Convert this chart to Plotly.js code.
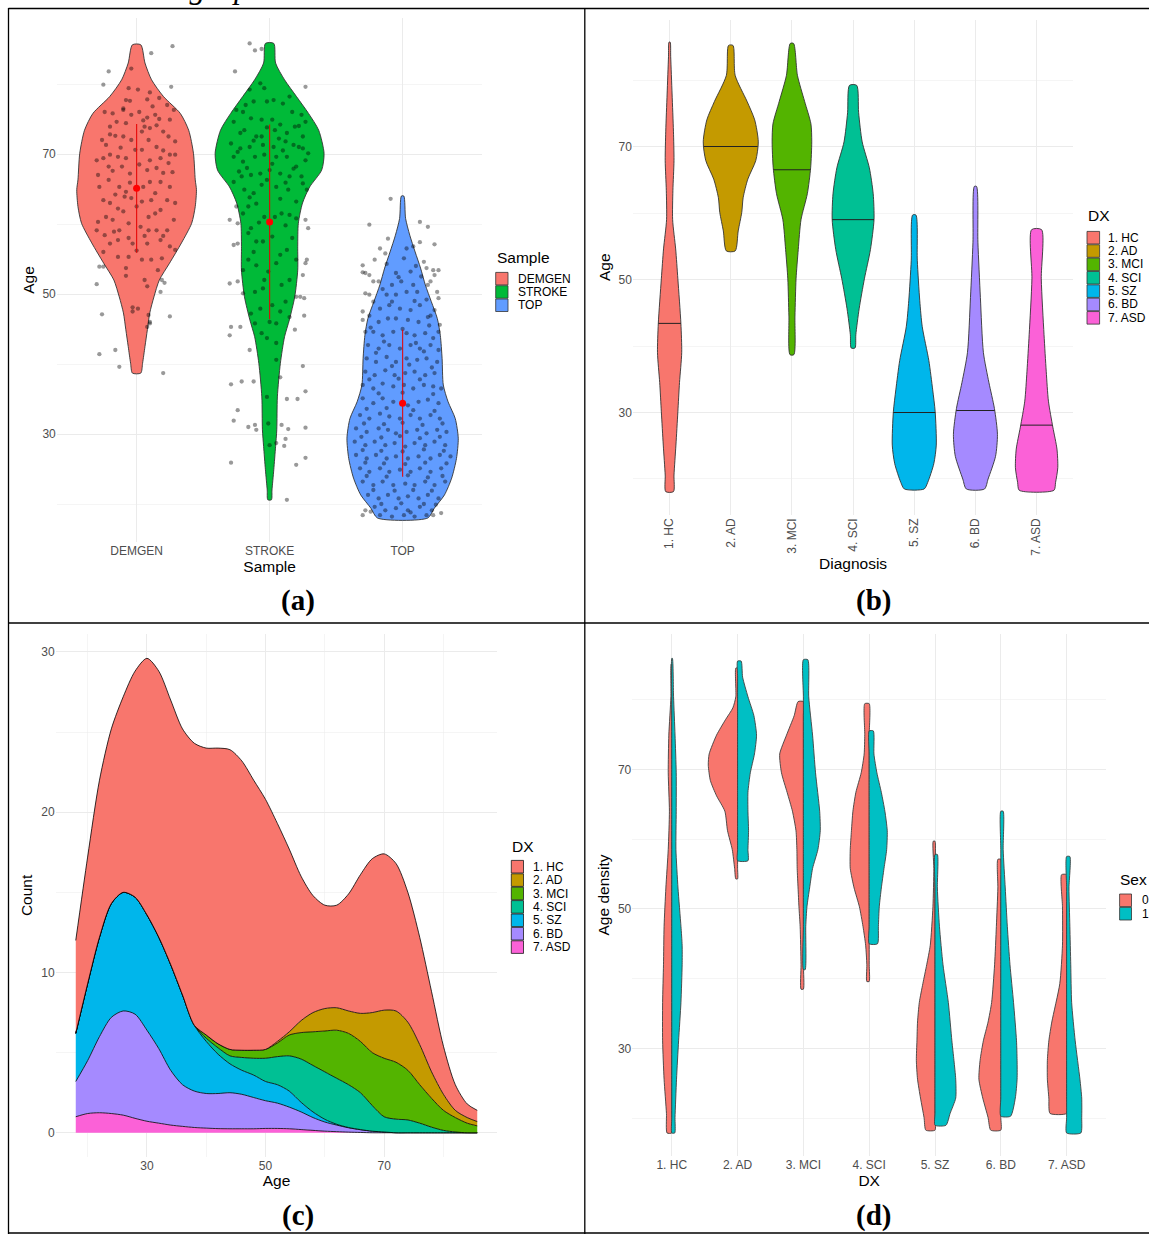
<!DOCTYPE html>
<html><head><meta charset="utf-8">
<script src="https://cdn.plot.ly/plotly-3.0.1.min.js"></script>
<style>html,body{margin:0;padding:0;background:#fff}#chart{width:1149px;height:1234px}</style>
</head><body><div id="chart"></div>
<script>
// ---------------- DATA ----------------
// Panel (a): violin density profiles (age, relative half-width) per sample
const sampleNames = ['DEMGEN', 'STROKE', 'TOP'];
const sampleColors = ['#F8766D', '#00BA38', '#619CFF'];
const demgenProfileAge = [85.6, 83.0, 80.6, 78.2, 75.8, 73.4, 70.1, 66.3, 64.9, 62.5, 60.1, 57.3, 54.4, 52.0, 49.6, 47.3, 44.9, 42.5, 40.1, 38.7];
const demgenProfileWidth = [0.07, 0.14, 0.25, 0.45, 0.73, 0.87, 0.95, 0.98, 1.0, 0.98, 0.92, 0.75, 0.55, 0.38, 0.29, 0.22, 0.18, 0.14, 0.1, 0.07];
const strokeProfileAge = [85.8, 83.0, 80.6, 78.2, 75.8, 73.4, 70.1, 67.7, 65.3, 63.0, 60.1, 56.8, 53.4, 49.6, 46.3, 43.9, 40.1, 35.3, 30.6, 28.2, 24.9, 22.0, 20.6];
const strokeProfileWidth = [0.07, 0.1, 0.25, 0.45, 0.65, 0.82, 0.91, 0.87, 0.67, 0.55, 0.48, 0.47, 0.47, 0.42, 0.33, 0.25, 0.18, 0.13, 0.12, 0.1, 0.07, 0.04, 0.03];
const topProfileAge = [64.0, 60.8, 58.4, 56.0, 53.7, 51.3, 48.9, 46.5, 44.1, 40.8, 37.0, 34.6, 32.2, 29.4, 26.5, 23.7, 21.3, 19.4, 18.0];
const topProfileWidth = [0.02, 0.05, 0.12, 0.21, 0.3, 0.38, 0.48, 0.58, 0.63, 0.66, 0.68, 0.76, 0.88, 0.93, 0.9, 0.82, 0.7, 0.53, 0.42];
const sampleMean = [65.1, 60.3, 34.4];
const sampleSd = [9.2, 13.9, 10.5];
// jittered subjects: [horizontal jitter (category units), age]
const demgenPoints = [[0.27,85.4],[0.11,84.4],[-0.21,81.8],[-0.25,79.9],[0.26,79.6],[-0.04,82.2],[-0.06,79.4],[0.01,79.2],[0.10,78.8],[0.17,78.0],[-0.08,77.7],[-0.05,77.6],[0.08,77.8],[0.23,77.0],[-0.10,76.5],[0.02,76.0],[-0.24,76.0],[-0.18,75.8],[-0.04,75.6],[0.08,75.2],[0.14,75.6],[0.17,75.0],[0.25,74.9],[0.28,76.3],[-0.20,73.9],[-0.15,74.6],[-0.08,74.4],[0.06,73.9],[0.10,73.7],[0.15,74.1],[0.24,72.5],[0.29,71.8],[-0.26,72.0],[-0.23,71.3],[-0.16,72.6],[-0.10,72.5],[-0.04,72.0],[0.04,73.2],[0.09,72.0],[0.15,71.0],[0.20,73.2],[-0.30,69.1],[-0.25,69.4],[-0.20,69.9],[-0.14,69.6],[-0.08,69.4],[-0.01,70.6],[0.04,70.6],[0.10,69.1],[0.18,69.4],[0.25,69.9],[0.29,69.9],[-0.29,67.0],[-0.21,68.2],[-0.11,68.2],[-0.05,67.2],[0.08,67.7],[0.15,68.0],[0.24,68.7],[-0.28,65.3],[-0.21,66.3],[-0.13,65.3],[-0.08,64.6],[0.05,65.3],[0.10,66.0],[0.18,66.0],[0.25,65.3],[-0.25,63.4],[-0.20,63.0],[-0.09,63.9],[-0.04,63.7],[0.04,63.2],[0.11,63.4],[0.23,63.4],[0.29,63.0],[-0.29,60.3],[-0.23,61.0],[-0.18,60.6],[-0.10,61.8],[0.00,62.5],[0.09,61.0],[0.18,62.0],[0.28,60.6],[-0.30,59.1],[-0.24,58.4],[-0.13,59.1],[-0.06,58.0],[0.03,59.6],[0.09,59.1],[0.15,59.1],[0.23,59.1],[-0.20,57.2],[-0.14,57.7],[-0.03,57.2],[0.08,57.2],[0.18,57.7],[0.25,56.8],[-0.25,56.0],[-0.14,55.3],[-0.06,55.3],[0.04,54.9],[0.11,54.9],[0.19,55.1],[0.29,56.3],[-0.28,53.9],[-0.25,53.9],[-0.08,53.7],[0.16,53.4],[0.19,52.0],[-0.30,51.4],[-0.08,52.6],[0.08,51.1],[0.06,52.0],[0.18,50.3],[0.21,51.6],[-0.03,48.1],[0.01,47.9],[-0.26,47.1],[0.09,47.0],[0.25,46.8],[0.10,46.0],[0.08,45.3],[0.10,45.8],[-0.28,41.4],[-0.16,42.0],[-0.13,39.6],[0.20,38.7],[-0.03,47.5],[-0.12,70.9],[0.20,70.5],[-0.18,67.6],[0.02,68.5],[0.20,67.3],[-0.05,65.9],[-0.16,64.2],[0.14,64.4],[0.27,67.4],[-0.14,62.2],[0.14,61.5],[-0.06,60.1],[0.06,58.3],[-0.17,58.9],[0.20,58.3],[0.00,56.2],[-0.10,76.3],[0.12,76.8],[-0.20,72.8],[0.05,74.8]];
const strokePoints = [[-0.15,85.8],[-0.11,84.8],[-0.06,85.0],[-0.26,81.8],[0.27,79.6],[-0.15,79.2],[-0.07,80.1],[-0.04,79.4],[0.15,78.2],[0.03,77.7],[-0.02,77.5],[-0.12,77.5],[-0.20,76.0],[-0.25,76.3],[-0.14,75.1],[-0.06,74.9],[0.02,74.9],[0.17,76.0],[0.24,75.6],[0.27,74.6],[-0.27,74.6],[-0.19,73.4],[-0.10,72.5],[-0.06,72.5],[0.04,73.4],[0.13,73.0],[0.19,73.9],[0.25,72.5],[-0.29,71.5],[-0.22,70.8],[-0.15,71.0],[-0.05,71.3],[0.03,71.0],[0.12,71.8],[0.18,71.3],[0.22,71.0],[0.29,70.1],[-0.27,69.6],[-0.20,68.9],[-0.11,69.6],[-0.04,69.9],[0.05,69.6],[0.13,69.6],[0.20,68.2],[0.27,69.1],[-0.27,66.0],[-0.21,66.8],[-0.14,67.0],[-0.07,67.2],[0.00,67.7],[0.08,67.2],[0.15,66.8],[0.24,66.8],[-0.19,64.9],[-0.12,64.4],[-0.06,65.6],[0.05,65.3],[0.14,64.9],[0.25,65.8],[0.28,64.9],[-0.25,62.5],[-0.16,62.5],[-0.10,62.9],[0.09,61.5],[0.15,61.3],[0.20,60.8],[-0.30,60.6],[-0.24,60.1],[-0.14,59.4],[-0.04,61.0],[0.04,61.0],[0.27,60.6],[0.29,59.4],[-0.27,57.0],[-0.24,57.2],[-0.16,58.7],[-0.10,57.5],[-0.05,57.5],[0.13,56.3],[0.17,58.0],[0.28,54.9],[0.27,54.4],[-0.20,53.4],[-0.16,54.9],[-0.10,54.1],[-0.01,53.2],[0.05,54.4],[0.20,54.9],[0.25,52.7],[-0.30,51.5],[-0.24,51.8],[-0.20,50.1],[-0.11,50.3],[-0.04,52.0],[0.09,51.3],[0.15,52.0],[0.20,49.6],[0.26,49.4],[0.23,49.6],[-0.07,47.9],[0.02,48.4],[0.08,47.5],[0.15,46.7],[0.26,46.9],[-0.29,45.3],[-0.22,45.3],[-0.30,44.1],[-0.11,45.8],[-0.06,44.4],[0.00,46.0],[0.05,45.8],[0.19,44.9],[-0.02,43.7],[-0.15,42.0],[0.05,40.6],[0.25,39.7],[-0.29,37.1],[-0.21,37.5],[-0.12,37.5],[0.08,38.1],[-0.02,35.3],[0.13,35.0],[0.21,35.0],[0.27,36.1],[-0.24,33.4],[-0.27,31.9],[-0.16,31.0],[-0.11,31.3],[-0.10,30.6],[-0.01,31.5],[0.09,31.3],[0.14,30.7],[0.27,30.9],[0.12,29.3],[0.11,28.3],[0.00,28.4],[0.05,28.7],[-0.29,25.9],[0.27,26.6],[0.20,25.6],[0.13,20.6],[-0.18,77.0],[0.10,77.2],[-0.22,73.0],[-0.02,73.8],[0.08,74.2],[0.22,74.0],[-0.12,71.9],[0.07,72.2],[-0.24,70.3],[0.10,70.5],[0.25,70.8],[-0.17,68.0],[0.02,68.6],[0.18,67.9],[-0.23,67.5],[-0.02,66.3],[0.12,65.9],[-0.15,63.8],[0.08,63.6],[0.20,63.2],[-0.20,61.5],[-0.08,60.2],[0.12,59.8],[0.02,58.2],[-0.12,56.0],[0.08,55.6],[-0.05,50.8],[0.12,48.9],[-0.14,47.2],[0.05,43.0]];
const topPoints = [[-0.09,63.6],[-0.25,59.9],[0.13,60.3],[0.19,59.6],[-0.11,57.9],[0.24,57.1],[-0.17,56.5],[-0.13,55.8],[0.13,57.4],[0.08,56.8],[-0.21,54.9],[-0.30,54.1],[-0.28,53.0],[-0.25,52.7],[-0.30,53.1],[0.16,54.6],[0.18,53.7],[0.23,53.4],[0.27,53.4],[0.24,52.7],[-0.22,51.8],[-0.18,51.8],[0.21,51.8],[0.19,51.3],[0.26,50.3],[-0.28,50.1],[-0.25,49.9],[0.27,49.4],[-0.22,48.9],[-0.30,47.5],[0.24,47.7],[-0.30,46.3],[0.28,45.6],[-0.28,44.6],[0.27,44.6],[0.03,56.5],[0.01,55.1],[-0.05,53.0],[0.06,53.2],[-0.08,51.3],[-0.01,51.8],[0.08,51.3],[-0.12,49.9],[-0.05,49.9],[0.03,50.3],[0.11,50.3],[-0.17,47.9],[-0.10,48.4],[-0.02,47.9],[0.06,47.7],[0.13,48.4],[-0.18,46.0],[-0.11,46.5],[-0.05,46.5],[0.04,46.3],[0.12,46.0],[0.19,46.7],[-0.22,44.6],[-0.15,44.1],[-0.07,44.6],[0.03,44.4],[0.09,44.1],[0.17,44.4],[0.23,43.7],[-0.26,42.7],[-0.18,42.2],[-0.10,42.7],[-0.02,42.2],[0.06,42.7],[0.13,42.2],[0.21,42.7],[0.27,42.0],[-0.27,40.8],[-0.20,40.3],[-0.12,41.0],[-0.05,40.3],[0.03,40.8],[0.11,40.6],[0.18,40.8],[0.26,40.3],[-0.28,38.9],[-0.21,38.4],[-0.13,39.1],[-0.06,38.4],[0.02,38.7],[0.09,38.9],[0.17,38.4],[0.24,38.7],[-0.30,37.0],[-0.22,36.5],[-0.15,37.2],[-0.07,36.8],[0.01,37.0],[0.08,36.5],[0.16,37.0],[0.23,36.8],[0.29,36.5],[-0.30,35.1],[-0.22,34.4],[-0.15,35.1],[-0.07,34.6],[0.04,34.1],[0.12,34.6],[0.19,34.9],[0.27,34.4],[-0.32,32.7],[-0.25,32.2],[-0.17,32.9],[-0.10,32.5],[-0.02,32.2],[0.06,32.7],[0.13,32.2],[0.21,32.7],[0.28,32.2],[-0.35,30.8],[-0.27,30.3],[-0.18,30.8],[-0.11,30.6],[-0.05,30.1],[0.03,30.3],[0.11,30.6],[0.18,30.1],[0.26,30.6],[0.33,30.3],[-0.36,28.9],[-0.28,28.4],[-0.21,28.9],[-0.13,28.4],[-0.06,28.7],[0.02,28.2],[0.09,28.7],[0.17,28.4],[0.24,28.9],[0.32,28.4],[-0.35,27.0],[-0.27,26.5],[-0.20,27.0],[-0.12,26.5],[-0.05,26.8],[0.04,26.5],[0.12,26.8],[0.21,26.5],[0.28,27.0],[0.36,26.8],[-0.32,25.1],[-0.25,24.6],[-0.17,25.1],[-0.10,24.6],[-0.02,24.9],[0.06,24.6],[0.13,25.1],[0.21,24.6],[0.29,25.1],[-0.30,23.2],[-0.22,22.7],[-0.15,23.2],[-0.07,22.7],[0.02,22.9],[0.09,22.7],[0.17,23.2],[0.24,22.7],[0.32,23.2],[-0.26,21.3],[-0.18,20.8],[-0.11,21.3],[-0.03,20.8],[0.04,21.1],[0.12,20.8],[0.19,21.3],[0.27,20.8],[-0.21,19.6],[-0.13,19.1],[-0.05,19.4],[0.04,19.1],[0.13,19.6],[0.22,19.1],[-0.17,18.4],[-0.08,18.2],[0.01,18.4],[0.09,18.2],[0.18,18.4],[-0.30,18.4],[-0.28,19.1],[0.29,18.7],[0.23,18.4],[-0.24,45.2],[0.00,45.0],[0.20,45.5],[-0.14,43.2],[0.10,43.0],[-0.20,41.6],[0.16,41.8],[-0.08,39.7],[0.05,39.9],[0.22,39.5],[-0.25,37.8],[-0.03,37.9],[0.13,37.8],[-0.18,35.8],[0.00,35.9],[0.23,35.7],[-0.27,33.6],[-0.12,33.7],[0.08,33.4],[0.24,33.3],[-0.29,31.5],[-0.14,31.4],[0.00,31.6],[0.15,31.3],[0.30,31.5],[-0.31,29.6],[-0.16,29.5],[-0.02,29.7],[0.13,29.4],[0.28,29.6],[-0.30,27.7],[-0.16,27.6],[0.00,27.5],[0.16,27.8],[0.31,27.6],[-0.28,25.9],[-0.14,25.8],[0.02,25.7],[0.17,25.9],[0.33,25.8],[-0.27,24.0],[-0.12,23.9],[0.04,24.1],[0.19,23.8],[0.30,24.0],[-0.22,22.0],[-0.06,21.9],[0.08,22.0],[0.22,21.9],[-0.16,20.0],[-0.01,20.1],[0.16,20.0],[0.25,19.9],[-0.24,18.9],[0.06,18.8],[-0.12,54.3],[0.10,54.0],[-0.03,52.4],[0.14,52.5],[-0.15,50.7],[0.18,49.2],[-0.08,48.9],[0.09,49.0],[-0.25,46.9],[0.21,46.9]];

// Panel (b): violin profiles per diagnosis
const dxNames = ['1. HC', '2. AD', '3. MCI', '4. SCI', '5. SZ', '6. BD', '7. ASD'];
const dxColors = ['#F8766D', '#C49A00', '#53B400', '#00C094', '#00B6EB', '#A58AFF', '#FB61D7'];
const hcAge = [85.7, 83.5, 77.9, 72.3, 67.9, 63.4, 59.0, 54.6, 50.1, 43.4, 39.0, 34.5, 30.1, 25.1, 20.6, 18.1];
const hcWidth = [0.02, 0.04, 0.09, 0.14, 0.16, 0.12, 0.11, 0.22, 0.3, 0.41, 0.44, 0.36, 0.3, 0.23, 0.16, 0.14];
const adAge = [85.2, 80.7, 76.8, 74.0, 70.7, 67.9, 65.1, 62.3, 60.1, 57.3, 54.3];
const adWidth = [0.08, 0.16, 0.59, 0.87, 1.0, 0.91, 0.62, 0.45, 0.4, 0.27, 0.16];
const mciAge = [85.5, 80.7, 76.8, 73.4, 70.7, 66.8, 62.9, 59.0, 54.5, 50.1, 44.5, 38.7];
const mciWidth = [0.06, 0.2, 0.46, 0.69, 0.72, 0.68, 0.56, 0.33, 0.23, 0.15, 0.11, 0.07];
const sciAge = [79.2, 75.1, 70.7, 66.8, 62.9, 59.0, 54.5, 50.1, 45.6, 41.7, 39.7];
const sciWidth = [0.13, 0.2, 0.33, 0.59, 0.73, 0.76, 0.63, 0.41, 0.22, 0.1, 0.07];
const szAge = [59.7, 52.9, 46.8, 42.9, 37.8, 33.4, 30.1, 25.1, 22.3, 19.5, 18.5];
const szWidth = [0.06, 0.11, 0.2, 0.29, 0.53, 0.67, 0.76, 0.8, 0.71, 0.49, 0.36];
const bdAge = [64.0, 55.6, 47.3, 39.0, 34.5, 30.6, 26.7, 23.4, 20.0, 18.5];
const bdWidth = [0.04, 0.09, 0.18, 0.29, 0.49, 0.69, 0.8, 0.73, 0.46, 0.33];
const asdAge = [57.5, 50.1, 41.7, 36.2, 31.7, 27.8, 24.5, 21.7, 19.5, 18.3];
const asdWidth = [0.18, 0.17, 0.27, 0.35, 0.43, 0.59, 0.74, 0.77, 0.69, 0.63];
const dxMedian = [43.4, 70.0, 66.5, 59.0, 30.0, 30.3, 28.1];

// Panel (c): stacked count densities by age
const densityAge = [18,20,22,24,26,28,30,32,34,36,38,40,42,44,46,48,50,52,54,56,58,60,62,64,66,68,70,72,74,76,78,80,82,84,85.7];
const countHC  = [5.8,7.9,9.8,10.9,12.2,14.1,16.0,16.6,16.5,16.6,17.6,17.9,18.45,18.7,18.05,16.85,15.6,13.6,11.4,9.0,7.3,6.45,6.4,7.3,8.65,9.6,9.75,9.2,8.1,6.7,5.0,3.0,1.6,0.85,0.7];
const countAD  = [0,0,0,0,0,0,0,0,0,0,0,0,0,0,0,0,0,0.1,0.2,0.75,1.2,1.4,1.4,1.4,1.75,2.5,3.0,3.2,3.0,2.5,1.65,1.0,0.45,0.35,0.27];
const countMCI = [0,0,0,0,0,0,0,0,0,0,0,0.2,0.25,0.4,0.45,0.5,0.55,0.85,1.3,1.65,2.1,2.55,3.0,3.2,3.2,3.3,3.65,3.55,3.1,2.4,1.8,1.25,0.9,0.6,0.43];
const countSCI = [0,0,0,0,0,0,0,0,0,0,0,0.2,0.4,0.5,0.8,1.05,1.45,1.75,2.2,2.7,2.9,2.96,2.87,2.67,2.3,1.6,0.95,0.85,0.8,0.6,0.35,0.15,0.05,0,0];
const countSZ  = [3.0,4.8,6.2,7.1,7.4,7.3,7.2,6.95,6.6,5.6,4.1,3.25,2.45,1.8,1.5,1.4,1.2,1.15,1.0,0.6,0.35,0.17,0.05,0.02,0.01,0,0,0,0,0,0,0,0,0,0];
const countBD  = [2.2,3.3,4.75,6.0,6.5,6.5,5.68,4.65,3.42,2.6,2.27,2.16,2.19,2.25,2.15,1.95,1.73,1.58,1.35,1.1,0.8,0.57,0.41,0.27,0.17,0.1,0.05,0,0,0,0,0,0,0,0];
const countASD = [1.0,1.2,1.25,1.2,1.1,0.9,0.72,0.6,0.48,0.4,0.33,0.29,0.26,0.25,0.25,0.25,0.27,0.27,0.25,0.2,0.15,0.1,0.07,0.04,0.02,0,0,0,0,0,0,0,0,0,0];

// Panel (d): split violins by sex (0 left, 1 right)
const sexNames = ['0', '1'];
const sexColors = ['#F8766D', '#00BFC4'];
const hc0Age = [85.1, 80.4, 74.9, 69.5, 64.0, 58.5, 53.0, 47.5, 42.0, 36.6, 31.1, 25.6, 20.7, 17.9];
const hc0Width = [0.02, 0.03, 0.1, 0.12, 0.08, 0.12, 0.2, 0.26, 0.28, 0.31, 0.31, 0.26, 0.18, 0.16];
const hc1Age = [85.9, 80.4, 74.9, 69.5, 64.0, 58.5, 53.0, 47.5, 44.8, 42.0, 36.6, 31.1, 25.6, 20.1, 17.9];
const hc1Width = [0.02, 0.06, 0.11, 0.15, 0.15, 0.14, 0.21, 0.31, 0.35, 0.35, 0.31, 0.23, 0.16, 0.11, 0.1];
const ad0Age = [84.5, 80.4, 78.8, 77.1, 74.9, 72.2, 70.6, 68.4, 66.2, 64.0, 61.2, 58.5, 55.8, 54.3];
const ad0Width = [0.06, 0.06, 0.16, 0.41, 0.71, 0.96, 0.99, 0.92, 0.71, 0.43, 0.34, 0.18, 0.1, 0.06];
const ad1Age = [85.5, 83.2, 80.4, 77.7, 74.9, 72.2, 69.5, 66.7, 64.0, 61.2, 58.5, 56.9];
const ad1Width = [0.12, 0.17, 0.35, 0.55, 0.64, 0.57, 0.43, 0.35, 0.35, 0.37, 0.35, 0.35];
const mci0Age = [79.7, 77.7, 74.9, 72.2, 69.5, 66.7, 64.0, 61.2, 58.5, 55.8, 53.0, 50.3, 47.5, 42.0, 38.5];
const mci0Width = [0.18, 0.31, 0.57, 0.8, 0.74, 0.55, 0.37, 0.25, 0.22, 0.21, 0.18, 0.15, 0.11, 0.08, 0.08];
const mci1Age = [85.7, 80.4, 74.9, 69.5, 64.0, 61.2, 58.5, 55.8, 53.0, 50.3, 47.5, 41.3];
const mci1Width = [0.15, 0.18, 0.31, 0.41, 0.55, 0.57, 0.49, 0.31, 0.21, 0.12, 0.08, 0.06];
const sci0Age = [79.4, 75.0, 72.2, 69.5, 66.7, 64.0, 61.2, 58.5, 55.8, 53.0, 50.3, 47.5, 44.8, 42.0, 39.6];
const sci0Width = [0.15, 0.15, 0.17, 0.27, 0.45, 0.55, 0.6, 0.64, 0.64, 0.51, 0.33, 0.21, 0.12, 0.08, 0.08];
const sci1Age = [75.5, 72.2, 69.5, 66.7, 64.0, 61.2, 58.5, 55.8, 53.0, 50.3, 47.5, 45.0];
const sci1Width = [0.14, 0.16, 0.26, 0.41, 0.53, 0.61, 0.59, 0.5, 0.41, 0.34, 0.31, 0.28];
const sz0Age = [59.7, 55.8, 50.3, 44.8, 42.0, 39.3, 36.6, 33.8, 31.1, 28.3, 25.6, 22.9, 20.1, 18.3];
const sz0Width = [0.06, 0.04, 0.07, 0.16, 0.28, 0.41, 0.53, 0.59, 0.61, 0.63, 0.59, 0.49, 0.37, 0.31];
const sz1Age = [57.8, 53.0, 47.5, 42.0, 36.6, 31.1, 28.3, 25.6, 22.9, 20.7, 19.0];
const sz1Width = [0.08, 0.08, 0.15, 0.27, 0.45, 0.57, 0.64, 0.7, 0.7, 0.51, 0.37];
const bd0Age = [57.1, 53.0, 47.5, 42.0, 36.6, 33.8, 31.1, 28.3, 25.6, 22.9, 20.1, 18.3];
const bd0Width = [0.1, 0.1, 0.15, 0.21, 0.31, 0.43, 0.59, 0.7, 0.74, 0.61, 0.43, 0.34];
const bd1Age = [64.0, 58.5, 53.0, 47.5, 42.0, 36.6, 31.1, 28.3, 25.6, 22.9, 20.3];
const bd1Width = [0.08, 0.08, 0.15, 0.22, 0.31, 0.43, 0.53, 0.55, 0.55, 0.49, 0.33];
const asd0Age = [54.9, 50.3, 44.8, 39.3, 33.8, 31.1, 28.3, 25.6, 22.9, 20.7];
const asd0Width = [0.17, 0.14, 0.14, 0.23, 0.5, 0.6, 0.65, 0.65, 0.6, 0.56];
const asd1Age = [57.5, 53.0, 47.5, 42.0, 36.6, 31.1, 25.6, 22.9, 20.1, 17.9];
const asd1Width = [0.11, 0.08, 0.11, 0.14, 0.17, 0.29, 0.45, 0.51, 0.51, 0.48];

// ---------------- BUILD ----------------
const W = 1149, H = 1234;
const fx = p => p / W;
const fy = p => 1 - p / H;
const FONT = '"Liberation Sans", Arial, sans-serif';
const HALF = 0.45; // ggplot max violin half width (category units)

function fullViolin(center, ages, widths, fill, line, xa, ya) {
  const x = [], y = [];
  for (let i = 0; i < ages.length; i++) { x.push(center + widths[i] * HALF); y.push(ages[i]); }
  for (let i = ages.length - 1; i >= 0; i--) { x.push(center - widths[i] * HALF); y.push(ages[i]); }
  x.push(x[0]); y.push(y[0]);
  return { type: 'scatter', mode: 'lines', x, y, fill: 'toself', fillcolor: fill,
    line: { color: line, width: 0.9, shape: 'spline', smoothing: 0.7 },
    xaxis: xa, yaxis: ya, hoverinfo: 'skip', showlegend: false };
}
function halfViolin(center, side, ages, widths, fill, line, xa, ya) {
  const x = [], y = [];
  for (let i = 0; i < ages.length; i++) { x.push(center + side * widths[i] * HALF); y.push(ages[i]); }
  for (let i = ages.length - 1; i >= 0; i--) { x.push(center); y.push(ages[i]); }
  x.push(x[0]); y.push(y[0]);
  return { type: 'scatter', mode: 'lines', x, y, fill: 'toself', fillcolor: fill,
    line: { color: line, width: 0.9, shape: 'spline', smoothing: 0.6 },
    xaxis: xa, yaxis: ya, hoverinfo: 'skip', showlegend: false };
}
function widthAt(ages, widths, a) {
  for (let i = 0; i < ages.length - 1; i++) {
    const a0 = ages[i], a1 = ages[i + 1];
    if ((a <= a0 && a >= a1)) { const t = (a0 - a) / (a0 - a1); return widths[i] + t * (widths[i + 1] - widths[i]); }
  }
  return 0;
}

const traces = [];

// Panel a
const aProfiles = [[demgenProfileAge, demgenProfileWidth], [strokeProfileAge, strokeProfileWidth], [topProfileAge, topProfileWidth]];
aProfiles.forEach((p, i) => traces.push(fullViolin(i, p[0], p[1], sampleColors[i], '#333333', 'x', 'y')));
[demgenPoints, strokePoints, topPoints].forEach((pts, i) => {
  traces.push({ type: 'scatter', mode: 'markers', x: pts.map(p => i + p[0]), y: pts.map(p => p[1]),
    marker: { size: 4.3, color: 'rgba(0,0,0,0.4)', line: { width: 0 } }, xaxis: 'x', yaxis: 'y', hoverinfo: 'skip', showlegend: false });
});
traces.push({ type: 'scatter', mode: 'markers', x: [0, 1, 2], y: sampleMean,
  error_y: { type: 'data', array: sampleSd, visible: true, color: 'rgba(230,0,0,0.85)', thickness: 1.2, width: 0 },
  marker: { size: 7, color: '#ff0000' }, xaxis: 'x', yaxis: 'y', hoverinfo: 'skip', showlegend: false });

// Panel b
const bProfiles = [[hcAge, hcWidth], [adAge, adWidth], [mciAge, mciWidth], [sciAge, sciWidth], [szAge, szWidth], [bdAge, bdWidth], [asdAge, asdWidth]];
bProfiles.forEach((p, i) => traces.push(fullViolin(i, p[0], p[1], dxColors[i], '#333333', 'x2', 'y2')));
bProfiles.forEach((p, i) => {
  const w = widthAt(p[0], p[1], dxMedian[i]) * HALF;
  traces.push({ type: 'scatter', mode: 'lines', x: [i - w, i + w], y: [dxMedian[i], dxMedian[i]],
    line: { color: '#222222', width: 1 }, xaxis: 'x2', yaxis: 'y2', hoverinfo: 'skip', showlegend: false });
});

// Panel c (stack bottom -> top: ASD, BD, SZ, SCI, MCI, AD, HC)
const cSeries = [countHC, countAD, countMCI, countSCI, countSZ, countBD, countASD];
for (let i = cSeries.length - 1; i >= 0; i--) {
  traces.push({ type: 'scatter', mode: 'lines', x: densityAge, y: cSeries[i], stackgroup: 'c',
    fillcolor: dxColors[i], line: { color: '#000000', width: 0.8, shape: 'spline', smoothing: 0.8 },
    name: dxNames[i], xaxis: 'x3', yaxis: 'y3', hoverinfo: 'skip', showlegend: false });
}

// Panel d
const dProfiles = [
  [[hc0Age, hc0Width], [hc1Age, hc1Width]],
  [[ad0Age, ad0Width], [ad1Age, ad1Width]],
  [[mci0Age, mci0Width], [mci1Age, mci1Width]],
  [[sci0Age, sci0Width], [sci1Age, sci1Width]],
  [[sz0Age, sz0Width], [sz1Age, sz1Width]],
  [[bd0Age, bd0Width], [bd1Age, bd1Width]],
  [[asd0Age, asd0Width], [asd1Age, asd1Width]]
];
dProfiles.forEach((pair, i) => {
  traces.push(halfViolin(i, -1, pair[0][0], pair[0][1], sexColors[0], '#404040', 'x4', 'y4'));
  traces.push(halfViolin(i, 1, pair[1][0], pair[1][1], sexColors[1], '#404040', 'x4', 'y4'));
});

// ---------------- LAYOUT ----------------
const tickFont = { family: FONT, size: 12, color: '#4d4d4d' };
const titleFont = { family: FONT, size: 15.5, color: '#000000' };
const base = { showgrid: true, gridcolor: '#ebebeb', gridwidth: 1, zeroline: false, showline: false,
  ticks: '', tickfont: tickFont, fixedrange: true, automargin: false };
const minorGrid = d => ({ dtick: d, tick0: 0, showgrid: true, gridcolor: '#ebebeb', gridwidth: 0.5 });

const layout = {
  width: W, height: H, margin: { l: 0, r: 0, t: 0, b: 0 }, paper_bgcolor: '#ffffff', plot_bgcolor: 'rgba(0,0,0,0)',
  showlegend: false, font: { family: FONT },
  xaxis: Object.assign({}, base, { domain: [fx(56.8), fx(482.4)], range: [-0.6, 2.6], tickvals: [0, 1, 2], ticktext: sampleNames, anchor: 'y',
    title: { text: 'Sample', font: titleFont, standoff: 3 } }),
  yaxis: Object.assign({}, base, { domain: [fy(541.8), fy(18.2)], range: [14.6, 89.4], tick0: 10, dtick: 20, minor: minorGrid(10), anchor: 'x',
    title: { text: 'Age', font: titleFont, standoff: 4 } }),
  xaxis2: Object.assign({}, base, { domain: [fx(632.9), fx(1073.3)], range: [-0.6, 6.6], tickvals: [0, 1, 2, 3, 4, 5, 6], ticktext: dxNames, tickangle: -90, anchor: 'y2',
    title: { text: 'Diagnosis', font: titleFont, standoff: 3 } }),
  yaxis2: Object.assign({}, base, { domain: [fy(514.9), fy(19.5)], range: [14.6, 89.1], tick0: 10, dtick: 20, minor: minorGrid(10), anchor: 'x2',
    title: { text: 'Age', font: titleFont, standoff: 4 } }),
  xaxis3: Object.assign({}, base, { domain: [fx(55.6), fx(497.4)], range: [14.6, 89.1], tick0: 10, dtick: 20, minor: minorGrid(10), anchor: 'y3',
    title: { text: 'Age', font: titleFont, standoff: 3 } }),
  yaxis3: Object.assign({}, base, { domain: [fy(1156.5), fy(634.3)], range: [-1.48, 31.1], tick0: 0, dtick: 10, minor: minorGrid(5), anchor: 'x3',
    title: { text: 'Count', font: titleFont, standoff: 4 } }),
  xaxis4: Object.assign({}, base, { domain: [fx(632.3), fx(1106.1)], range: [-0.6, 6.6], tickvals: [0, 1, 2, 3, 4, 5, 6], ticktext: dxNames, anchor: 'y4',
    title: { text: 'DX', font: titleFont, standoff: 3 } }),
  yaxis4: Object.assign({}, base, { domain: [fy(1156), fy(633.9)], range: [14.6, 89.4], tick0: 10, dtick: 20, minor: minorGrid(10), anchor: 'x4',
    title: { text: 'Age density', font: titleFont, standoff: 4 } }),
  shapes: [], annotations: []
};

// frame lines of the figure table
const frame = [[8.5, 8.5, 1149, 8.5], [8.5, 8, 8.5, 1234], [584.8, 8, 584.8, 1234], [8.5, 623, 1149, 623], [8.5, 1233, 1149, 1233]];
frame.forEach(f => layout.shapes.push({ type: 'line', xref: 'paper', yref: 'paper', x0: fx(f[0]), y0: fy(f[1]), x1: fx(f[2]), y1: fy(f[3]), line: { color: '#000000', width: 1.3 } }));

// ggplot-like legends
function addLegend(title, labels, colors, titleX, titleY, keyX0, keyX1, keyTop, rowH, labelX, border) {
  layout.annotations.push({ text: title, xref: 'paper', yref: 'paper', x: fx(titleX), y: fy(titleY), xanchor: 'left', yanchor: 'middle', showarrow: false, font: titleFont });
  labels.forEach((lab, i) => {
    layout.shapes.push({ type: 'rect', xref: 'paper', yref: 'paper', x0: fx(keyX0), x1: fx(keyX1), y0: fy(keyTop + rowH * i + 0.4), y1: fy(keyTop + rowH * (i + 1) - 0.4),
      fillcolor: colors[i], line: { color: border, width: 0.8 } });
    layout.annotations.push({ text: lab, xref: 'paper', yref: 'paper', x: fx(labelX), y: fy(keyTop + rowH * (i + 0.5)), xanchor: 'left', yanchor: 'middle', showarrow: false,
      font: { family: FONT, size: 12, color: '#000000' } });
  });
}
addLegend('Sample', sampleNames, sampleColors, 494.5, 257, 495.7, 508, 272, 13.3, 515.5, '#333333');
addLegend('DX', dxNames, dxColors, 1086, 216, 1087, 1099.6, 231, 13.36, 1106, '#333333');
addLegend('DX', dxNames, dxColors, 510, 846, 511.3, 523.5, 860, 13.4, 530.5, '#1a1a1a');
addLegend('Sex', sexNames, sexColors, 1118, 879.5, 1119.6, 1131.5, 893.6, 13.4, 1139.5, '#333333');

// panel labels
const panelLabels = [['(a)', 298, 600], ['(b)', 873, 600], ['(c)', 298, 1215], ['(d)', 873, 1215]];
panelLabels.forEach(p => layout.annotations.push({ text: '<b>' + p[0] + '</b>', xref: 'paper', yref: 'paper', x: fx(p[1]), y: fy(p[2]), xanchor: 'center', yanchor: 'middle', showarrow: false,
  font: { family: '"Liberation Serif", "Times New Roman", serif', size: 29, color: '#000000' } }));

// section header (cut off at the top edge, as in the source figure)
layout.annotations.push({ text: '1.', xref: 'paper', yref: 'paper', x: fx(66), y: fy(7), xanchor: 'left', yanchor: 'bottom', showarrow: false,
  font: { family: '"Liberation Serif", serif', size: 32, color: '#4472C4' } });
layout.annotations.push({ text: '<i>Demographics</i>', xref: 'paper', yref: 'paper', x: fx(110), y: fy(7), xanchor: 'left', yanchor: 'bottom', showarrow: false,
  font: { family: '"Liberation Serif", serif', size: 32, color: '#000000' } });

Plotly.newPlot('chart', traces, layout, { displayModeBar: false, staticPlot: true });
</script></body></html>
